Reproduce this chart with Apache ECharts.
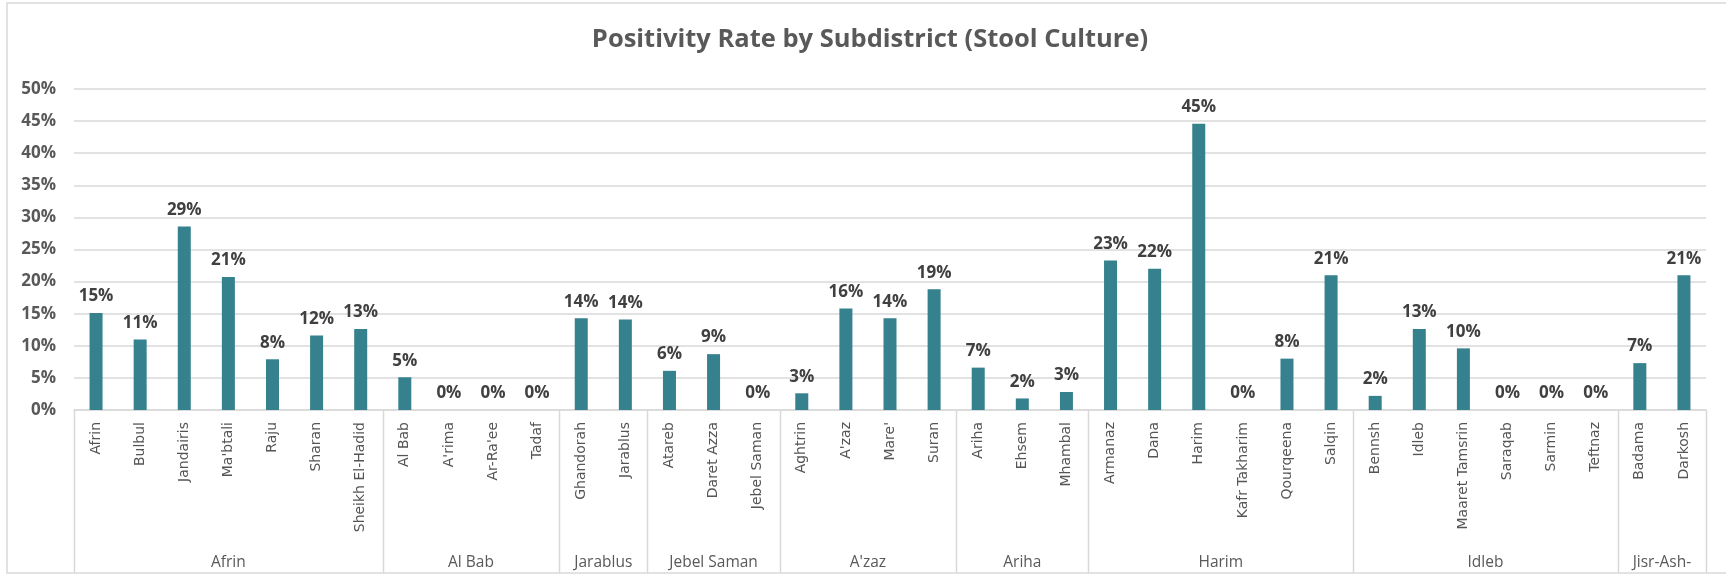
<!DOCTYPE html>
<html>
<head>
<meta charset="utf-8">
<script src="https://cdn.jsdelivr.net/npm/echarts@6/dist/echarts.min.js"></script>
<style>
html,body{margin:0;padding:0;background:#fff;}
#main{width:1726px;height:577px;}
</style>
</head>
<body>
<div id="main"></div>
<script>
const titleText = 'Positivity Rate by Subdistrict (Stool Culture)';
const subdistricts = ['Afrin','Bulbul','Jandairis',"Ma'btali",'Raju','Sharan','Sheikh El-Hadid',
  'Al Bab',"A'rima","Ar-Ra'ee",'Tadaf',
  'Ghandorah','Jarablus',
  'Atareb','Daret Azza','Jebel Saman',
  'Aghtrin',"A'zaz","Mare'",'Suran',
  'Ariha','Ehsem','Mhambal',
  'Armanaz','Dana','Harim','Kafr Takharim','Qourqeena','Salqin',
  'Bennsh','Idleb','Maaret Tamsrin','Saraqab','Sarmin','Teftnaz',
  'Badama','Darkosh'];
const positivity = [15.1,11.0,28.6,20.7,7.9,11.6,12.6,
  5.1,0,0,0,
  14.3,14.1,
  6.1,8.7,0,
  2.6,15.8,14.3,18.8,
  6.6,1.8,2.8,
  23.3,22.0,44.6,0,8.0,21.0,
  2.2,12.6,9.6,0,0,0,
  7.3,21.0];
const districts = ['Afrin','Al Bab','Jarablus','Jebel Saman',"A'zaz",'Ariha','Harim','Idleb','Jisr-Ash-'];
const districtSizes = [7,4,2,3,4,3,6,6,2];
const yMin = 0, yMax = 50, yStep = 5;

const chart = echarts.init(document.getElementById('main'), null, {renderer:'canvas'});
const GRID = {left:74, right:20, top:89, bottom:167};
chart.setOption({
  animation:false,
  backgroundColor:'#fff',
  grid:{left:GRID.left,right:GRID.right,top:GRID.top,bottom:GRID.bottom,containLabel:false},
  xAxis:{
    type:'category',
    data:subdistricts,
    axisLine:{show:true,lineStyle:{color:'#d9d9d9',width:1.5}},
    axisTick:{show:false},
    axisLabel:{interval:0,rotate:90,margin:12,color:'#555555',fontFamily:'DejaVu Sans',fontWeight:'normal',fontSize:14}
  },
  yAxis:{
    type:'value',min:yMin,max:yMax,interval:yStep,
    axisLine:{show:false},axisTick:{show:false},
    splitLine:{lineStyle:{color:'#d9d9d9',width:1.5}},
    axisLabel:{formatter:'{value}%',margin:18,color:'#595959',fontFamily:'Open Sans',fontWeight:'bold',fontSize:17}
  },
  series:[{
    type:'bar',
    data:positivity,
    barWidth:13,
    itemStyle:{color:'#35818D'},
    label:{show:true,position:'top',distance:8,color:'#404040',fontFamily:'Open Sans',fontWeight:'bold',fontSize:17,
      formatter:p=>Math.round(p.value)+'%'}
  }]
});

// build group separators and group labels from axis scale
const c0 = chart.convertToPixel({xAxisIndex:0}, 0);
const c1 = chart.convertToPixel({xAxisIndex:0}, 1);
const band = c1 - c0;
const axisY = chart.convertToPixel({yAxisIndex:0}, 0);
const bottomY = 573;
const graphics = [];
graphics.push({type:'rect',shape:{x:7,y:3,width:1760,height:570},style:{fill:null,stroke:'#d9d9d9',lineWidth:1.5},silent:true,z:0});
graphics.push({type:'text',x:870,y:40,style:{text:titleText,fill:'#595959',font:'bold 25.5px "Open Sans"',textAlign:'center',textVerticalAlign:'middle'}});
let start = 0;
const bounds = [c0 - band/2];
districtSizes.forEach((n,gi)=>{
  const left = chart.convertToPixel({xAxisIndex:0}, start) - band/2;
  const right = chart.convertToPixel({xAxisIndex:0}, start+n-1) + band/2;
  bounds.push(right);
  graphics.push({type:'text',x:(left+right)/2,y:563,style:{text:districts[gi],fill:'#595959',font:'15.5px "Open Sans"',textAlign:'center',textVerticalAlign:'middle'}});
  start += n;
});
bounds.forEach(x=>{
  graphics.push({type:'line',shape:{x1:Math.round(x)+0.5,y1:axisY,x2:Math.round(x)+0.5,y2:bottomY},style:{stroke:'#d9d9d9',lineWidth:1.5}});
});
chart.setOption({graphic:graphics});
</script>
</body>
</html>
